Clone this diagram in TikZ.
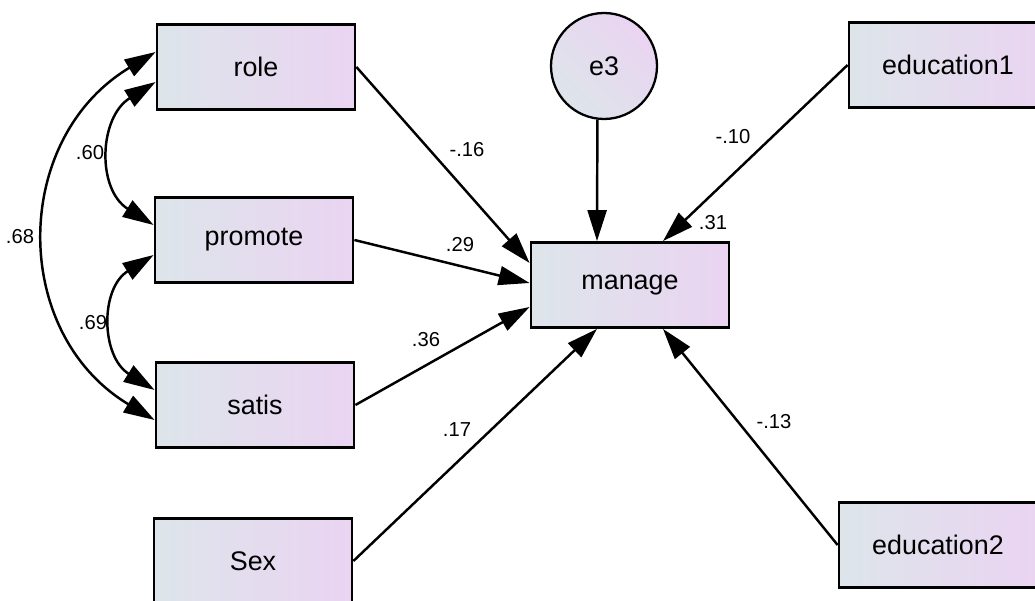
\documentclass[tikz,border=0pt]{standalone}
\usepackage{fontspec}
\setmainfont{Liberation Sans}
\usetikzlibrary{arrows.meta,positioning,calc}
\definecolor{boxleft}{RGB}{221,229,234}
\definecolor{boxright}{RGB}{234,212,242}

\begin{document}
\begin{tikzpicture}[>={Triangle[length=6.2mm,width=3.8mm]},
    var/.style={draw, line width=1.6pt, left color=boxleft, right color=boxright, minimum width=3.96cm, minimum height=1.7cm, inner sep=0pt, font=\fontsize{15.3}{18}\selectfont},
    err/.style={draw, circle, line width=1.3pt, left color=boxleft, right color=boxright, shading angle=135, minimum size=2.12cm, inner sep=0pt, font=\fontsize{15.3}{18}\selectfont},
    path/.style={->, line width=1.4pt},
    cov/.style={<->, line width=1.4pt},
    coef/.style={inner sep=0pt, font=\fontsize{11.5}{13}\selectfont}]
    \useasboundingbox (0,0) rectangle (20.7,-12.02);
    % observed variables
    \node[var] (role) at (5.12,-1.34) {role};
    \node[var] (promote) at (5.08,-4.80) {promote};
    \node[var] (satis) at (5.10,-8.10) {satis};
    \node[var] (Sex) at (5.06,-11.22) {Sex};
    \node[var] (manage) at (12.60,-5.70) {manage};
    \node[var] (education1) at (18.96,-1.30) {education1};
    \node[var] (education2) at (18.76,-10.90) {education2};
    \node[err] (e3) at (12.08,-1.32) {e3};
    % regression paths
    \draw[path] (role.east) -- ([yshift=4.4mm]manage.west);
    \draw[path] (promote.east) -- ([yshift=0.4mm]manage.west);
    \draw[path] (satis.east) -- ([yshift=-4.4mm]manage.west);
    \draw[path] (Sex.east) -- ([xshift=-6.6mm]manage.south);
    \draw[path] (education2.west) -- ([xshift=6.6mm]manage.south);
    \draw[path] (education1.west) -- ([xshift=6.6mm]manage.north);
    \draw[path] (e3.263) -- ([xshift=-6.6mm]manage.north);
    % covariances
    \draw[cov] ([yshift=-3mm]role.west) to[out=212,in=148,looseness=1.2] ([yshift=3mm]promote.west);
    \draw[cov] ([yshift=-3mm]promote.west) to[out=212,in=148,looseness=1.2] ([yshift=3mm]satis.west);
    \draw[cov] ([yshift=3mm]role.west) to[out=211,in=149,looseness=1.17] ([yshift=-3mm]satis.west);
    % estimates
    \node[coef] (c60) at (1.80,-3.06) {.60};
    \node[coef] (c69) at (1.86,-6.46) {.69};
    \node[coef] (c68) at (0.40,-4.74) {.68};
    \node[coef] (c16) at (9.34,-3.00) {-.16};
    \node[coef] (c29) at (9.20,-4.90) {.29};
    \node[coef] (c36) at (8.52,-6.80) {.36};
    \node[coef] (c17) at (9.14,-8.60) {.17};
    \node[coef] (c13) at (15.48,-8.44) {-.13};
    \node[coef] (c10) at (14.66,-2.74) {-.10};
    \node[coef] (r2) at (14.26,-4.46) {.31};
\end{tikzpicture}
\end{document}
